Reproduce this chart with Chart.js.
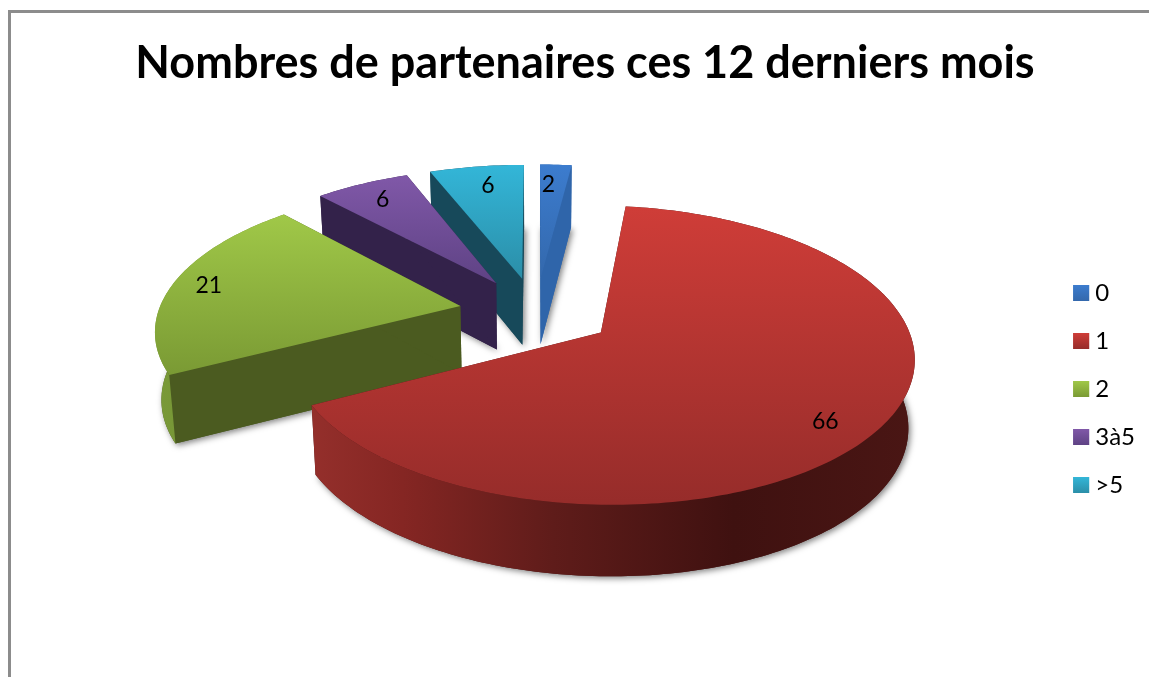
<!DOCTYPE html>
<html><head><meta charset="utf-8">
<style>html,body{margin:0;padding:0;background:#fff}#w{width:1149px;height:677px}</style>
<script src="https://cdn.jsdelivr.net/npm/chart.js@4"></script>
</head><body><div id="w"><canvas id="c"></canvas></div>
<script>
const categories = ['0','1','2','3à5','>5'];
const values = [2,66,21,6,6];
const titleText = 'Nombres de partenaires ces 12 derniers mois';
const baseColors = ['#3a78c4','#b83a36','#8fb544','#71509a','#2fa5c4'];
const topStart = ['#3c7cce','#cf3d38','#a0c848','#8058a8','#33b6d8'];
const topEnd = ['#3368ac','#962c2a','#7a9a34','#5e4284','#2b8ea8'];
const wallColors = ['#2f65aa','#4a1614','#4b5b20','#33224a','#17495a'];
const rimStops = [
  [[0,'#2f65aa'],[1,'#2f65aa']],
  [[0,'#942f2b'],[0.15,'#852623'],[0.4,'#5f1c1a'],[0.7,'#3f1110'],[1,'#4a1614']],
  [[0,'#7a9a38'],[1,'#6a8830']],
  [[0,'#33224a'],[1,'#33224a']],
  [[0,'#17495a'],[1,'#17495a']]
];
const labelAngleShift = [-1.3,6,0,0,1];
const labelRadius = [0.8,0.855,0.875,0.83,0.81];

const view = {cx:536, cy:312, sx:302, sy:140, k:0.149, explodeU:0.256, explodeV:0.25, taper:0.983, wall:67, wallK:4};
function proj(u,v){const d=1+view.k*v;return {x:view.cx+view.sx*u/d,y:view.cy-view.sy*v/d,v};}
function down(p){return {x:view.cx+(p.x-view.cx)*view.taper,y:p.y+view.wall-view.wallK*p.v};}
function trace(ctx,pts){ctx.beginPath();pts.forEach((p,i)=>i?ctx.lineTo(p.x,p.y):ctx.moveTo(p.x,p.y));ctx.closePath();}

const pie3d = {
  id:'pie3d',
  beforeDraw(chart){
    const c=chart.ctx;c.save();c.strokeStyle='#8c8c8c';c.lineWidth=3;
    c.beginPath();c.moveTo(9.5,700);c.lineTo(9.5,11.5);c.lineTo(1160,11.5);c.stroke();c.restore();
  },
  beforeDatasetDraw(chart,args){
    const c=chart.ctx, els=args.meta.data;
    const geo=els.map((el,i)=>{
      const s=el.startAngle,e=el.endAngle,m=(s+e)/2;
      const ou=Math.cos(m)*view.explodeU,ov=-Math.sin(m)*view.explodeV;
      const rim=[];const n=Math.max(4,Math.ceil((e-s)/0.02));
      for(let j=0;j<=n;j++){const a=s+(e-s)*j/n;rim.push(proj(ou+Math.cos(a),ov-Math.sin(a)));}
      const apex=proj(ou,ov);
      return {i,ou,ov,m,rim,apex};
    });
    // back to front: far slices first, the large near slice last
    [0,4,3,2,1].forEach(i=>{
      const g=geo[i],rim=g.rim,apex=g.apex;
      const botRim=rim.map(down),botApex=down(apex);
      c.save();
      c.shadowColor='rgba(0,0,0,0.5)';c.shadowBlur=6;c.shadowOffsetX=2;c.shadowOffsetY=2;
      c.fillStyle=wallColors[i];trace(c,[botApex,...botRim]);c.fill();
      c.restore();
      c.fillStyle=wallColors[i];
      const first=rim[0],last=rim[rim.length-1];
      trace(c,[apex,first,botRim[0],botApex]);c.fill();
      trace(c,[apex,last,botRim[botRim.length-1],botApex]);c.fill();
      const xs=rim.map(p=>p.x),ys=rim.map(p=>p.y).concat(apex.y);
      const gr=c.createLinearGradient(Math.min(...xs),0,Math.max(...xs),0);
      rimStops[i].forEach(s=>gr.addColorStop(s[0],s[1]));
      c.fillStyle=gr;trace(c,[...rim,...botRim.slice().reverse()]);c.fill();
      const tg=c.createLinearGradient(0,Math.min(...ys),0,Math.max(...ys));
      tg.addColorStop(0,topStart[i]);tg.addColorStop(1,topEnd[i]);
      c.fillStyle=tg;trace(c,[apex,...rim]);c.fill();
    });
    c.save();c.fillStyle='#000';c.font='23px Lato';c.textAlign='center';c.textBaseline='middle';
    geo.forEach(g=>{
      const a=g.m+labelAngleShift[g.i]*Math.PI/180,r=labelRadius[g.i];
      const p=proj(g.ou+Math.cos(a)*r,g.ov-Math.sin(a)*r);
      c.fillText(String(values[g.i]),p.x,p.y);
    });
    c.restore();
    return false;
  },
  afterDraw(chart){
    const c=chart.ctx;
    chart.legend.legendHitBoxes.forEach((b,i)=>{
      const y=b.top+(b.height-16)/2;
      const g=c.createLinearGradient(0,y,0,y+16);
      g.addColorStop(0,topStart[i]);g.addColorStop(1,topEnd[i]);
      c.fillStyle=g;c.fillRect(b.left,y,16,16);
    });
  }
};

new Chart(document.getElementById('c'),{
  type:'pie',
  data:{labels:categories,datasets:[{data:values,backgroundColor:baseColors,borderWidth:0}]},
  plugins:[pie3d],
  options:{
    responsive:true,maintainAspectRatio:false,animation:false,
    layout:{padding:{left:25,right:4,top:0,bottom:156}},
    plugins:{
      tooltip:{enabled:false},
      title:{display:true,text:titleText,color:'#000',font:{family:'Lato',size:45,weight:'bold'},padding:{top:36,bottom:10}},
      legend:{position:'right',align:'end',labels:{color:'#000',font:{family:'Lato',size:24},boxWidth:10,boxHeight:16,padding:24}}
    }
  }
});
</script></body></html>
